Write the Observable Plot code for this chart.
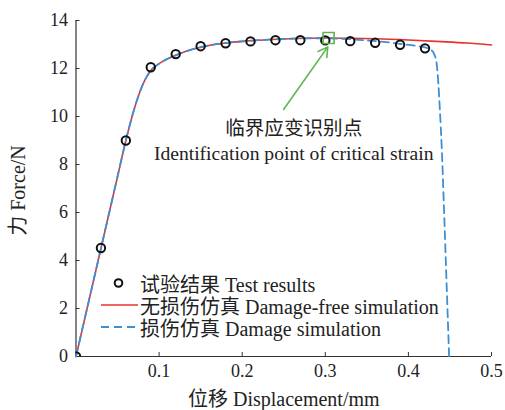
<!DOCTYPE html>
<html>
<head>
<meta charset="utf-8">
<script src="https://cdn.jsdelivr.net/npm/d3@7"></script>
<script src="https://cdn.jsdelivr.net/npm/@observablehq/plot@0.6"></script>
<style>
  html, body { margin: 0; padding: 0; background: #fff; }
  #wrap { position: relative; width: 505px; height: 410px; font-family: "Liberation Serif", "Noto Sans CJK SC", serif; color: #222; }
  #legend { position: absolute; left: 100px; top: 272px; font-size: 20px; }
  .row { display: flex; align-items: center; height: 22px; white-space: nowrap; }
  .row svg { width: 40px; height: 22px; flex: none; }
</style>
</head>
<body>
<div id="wrap"></div>
<script>
// Test results (displacement mm, force N)
const testX = [0, 0.03, 0.06, 0.09, 0.12, 0.15, 0.18, 0.21, 0.24, 0.27, 0.30, 0.33, 0.36, 0.39, 0.42];
const testY = [0, 4.52, 9.0, 12.05, 12.6, 12.93, 13.05, 13.13, 13.18, 13.18, 13.17, 13.14, 13.07, 12.99, 12.84];

// Damage-free simulation
const freeX = [0, 0.01, 0.02, 0.03, 0.04, 0.05, 0.06, 0.07, 0.08, 0.085, 0.09, 0.095, 0.10, 0.11, 0.12, 0.14, 0.16, 0.18, 0.20, 0.22, 0.25, 0.28, 0.30, 0.33, 0.36, 0.40, 0.44, 0.47, 0.50];
const freeY = [0, 1.5, 3.0, 4.5, 6.0, 7.5, 9.0, 10.3, 11.3, 11.65, 11.92, 12.08, 12.2, 12.4, 12.55, 12.8, 12.96, 13.06, 13.13, 13.18, 13.23, 13.26, 13.27, 13.26, 13.24, 13.19, 13.12, 13.06, 12.98];

// Damage simulation
const dmgX = [0, 0.01, 0.02, 0.03, 0.04, 0.05, 0.06, 0.07, 0.08, 0.085, 0.09, 0.095, 0.10, 0.11, 0.12, 0.14, 0.16, 0.18, 0.20, 0.22, 0.25, 0.28, 0.30, 0.33, 0.35, 0.37, 0.39, 0.41, 0.42, 0.427, 0.431, 0.434, 0.436, 0.438, 0.44, 0.443, 0.446, 0.448, 0.449];
const dmgY = [0, 1.5, 3.0, 4.5, 6.0, 7.5, 9.0, 10.3, 11.3, 11.65, 11.92, 12.08, 12.2, 12.4, 12.55, 12.8, 12.96, 13.06, 13.13, 13.18, 13.23, 13.26, 13.26, 13.22, 13.17, 13.11, 13.03, 12.94, 12.88, 12.78, 12.6, 12.2, 11.4, 10.2, 8.8, 6.0, 3.0, 1.0, 0];

// Critical strain identification point and annotation
const critPoint = [{x: 0.304, y: 13.27}];
const arrowFrom = {x: 0.25, y: 10.3};
const arrowTo = {x: 0.303, y: 12.9};
const annotLines = [
  {x: 0.262, y: 9.5, text: "临界应变识别点"},
  {x: 0.262, y: 8.45, text: "Identification point of critical strain"}
];

const xTicks = [0, 0.1, 0.2, 0.3, 0.4, 0.5];
const yTicks = [0, 2, 4, 6, 8, 10, 12, 14];
const xTitle = "位移 Displacement/mm";
const yTitle = "力 Force/N";
const legendLabels = ["试验结果 Test results", "无损伤仿真 Damage-free simulation", "损伤仿真 Damage simulation"];

const RED = "#e8322c", BLUE = "#3d8fd1", GREEN = "#5cb54f", AXIS = "#333";
const FONT = "Liberation Serif, Noto Sans CJK SC, serif";

const test = testX.map((x, i) => ({x, y: testY[i]}));
const free = freeX.map((x, i) => ({x, y: freeY[i]}));
const dmg = dmgX.map((x, i) => ({x, y: dmgY[i]}));

const chart = Plot.plot({
  width: 505,
  height: 410,
  marginLeft: 75.5,
  marginRight: 14,
  marginTop: 20,
  marginBottom: 54,
  style: {fontFamily: FONT, fontSize: "18px", color: "#222", background: "#fff"},
  x: {domain: [0, 0.5]},
  y: {domain: [0, 14]},
  marks: [
    Plot.axisX({ticks: xTicks, tickSize: -4, tickPadding: 12, stroke: AXIS, label: null,
      tickFormat: d => d === 0 ? "" : String(d), fontSize: 18}),
    Plot.axisY({ticks: yTicks, tickSize: -4, tickPadding: 12, stroke: AXIS, label: null, fontSize: 18}),
    Plot.ruleY([0], {stroke: AXIS, strokeWidth: 1.2}),
    Plot.ruleX([0], {stroke: AXIS, strokeWidth: 1.2}),
    Plot.line(free, {x: "x", y: "y", stroke: RED, strokeWidth: 1.6, curve: "monotone-x"}),
    Plot.line(dmg, {x: "x", y: "y", stroke: BLUE, strokeWidth: 1.8, strokeDasharray: "8,5", curve: "monotone-x"}),
    Plot.dot(test, {x: "x", y: "y", r: 4.2, stroke: "#111", strokeWidth: 2, fill: "none", clip: true}),
    Plot.arrow([{x1: arrowFrom.x, y1: arrowFrom.y, x2: arrowTo.x, y2: arrowTo.y}],
      {x1: "x1", y1: "y1", x2: "x2", y2: "y2", stroke: GREEN, strokeWidth: 1.6, headLength: 10}),
    Plot.dot(critPoint, {x: "x", y: "y", symbol: "square", r: 6.2, stroke: GREEN, strokeWidth: 1.6, fill: "none"}),
    Plot.text(annotLines, {x: "x", y: "y", text: "text", fontSize: 19.6, fill: "#222", textAnchor: "middle"}),
    Plot.text([xTitle], {frameAnchor: "bottom", dy: 49, fontSize: 20, fill: "#222", textAnchor: "middle"}),
    Plot.text([yTitle], {frameAnchor: "left", dx: -57, dy: 2, rotate: -90, fontSize: 20, fill: "#222", textAnchor: "middle"})
  ]
});

const wrap = document.getElementById("wrap");
wrap.appendChild(chart);

// Legend overlay
const legend = document.createElement("div");
legend.id = "legend";
const swatches = [
  `<svg viewBox="0 0 40 22"><circle cx="18.5" cy="11" r="3.8" fill="none" stroke="#111" stroke-width="2"/></svg>`,
  `<svg viewBox="0 0 40 22"><line x1="1" y1="11" x2="38" y2="11" stroke="${RED}" stroke-width="1.6"/></svg>`,
  `<svg viewBox="0 0 40 22"><line x1="1" y1="11" x2="38" y2="11" stroke="${BLUE}" stroke-width="1.8" stroke-dasharray="8,5"/></svg>`
];
legendLabels.forEach((t, i) => {
  const row = document.createElement("div");
  row.className = "row";
  row.innerHTML = swatches[i] + `<span>${t}</span>`;
  legend.appendChild(row);
});
wrap.appendChild(legend);
</script>
</body>
</html>
